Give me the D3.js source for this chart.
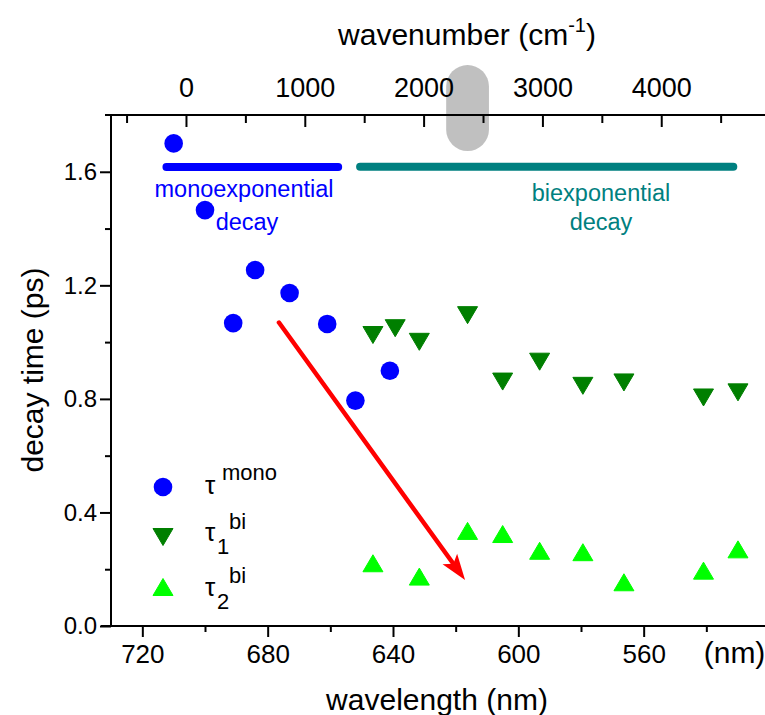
<!DOCTYPE html>
<html>
<head>
<meta charset="utf-8">
<script src="https://cdn.jsdelivr.net/npm/d3@7"></script>
<style>
  body { margin: 0; background: #fff; }
  text { font-family: "Liberation Sans", Arial, sans-serif; }
</style>
</head>
<body>
<div id="chart"></div>
<script>
const WIDTH = 765
const HEIGHT = 715

// data (wavelength in nm, decay time in ps)
const monoWl = [710, 700, 691, 684, 673, 661, 652, 641]
const monoTau = [1.70, 1.465, 1.067, 1.254, 1.173, 1.064, 0.794, 0.899]

const bi1Wl = [646.4, 639.3, 631.6, 616.2, 605.0, 593.2, 579.4, 566.3, 540.9, 529.9]
const bi1Tau = [1.025, 1.049, 1.001, 1.095, 0.861, 0.931, 0.846, 0.858, 0.805, 0.823]

const bi2Wl = [646.4, 631.6, 616.2, 605.0, 593.2, 579.4, 566.3, 540.9, 529.9]
const bi2Tau = [0.221, 0.174, 0.335, 0.324, 0.265, 0.260, 0.154, 0.195, 0.270]

const wlMajor = [720, 680, 640, 600, 560]
const wlMinor = [700, 660, 620, 580, 540]
const wnMajor = [0, 1000, 2000, 3000, 4000]
const wnMinor = [-500, 500, 1500, 2500, 3500, 4500]
const tauMajor = [0, 0.4, 0.8, 1.2, 1.6]
const tauMinor = [0.2, 0.6, 1.0, 1.4]

// regime bars: [wl start, wl end, tau]
const monoBar = [712.3, 657.5, 1.617]
const biBar = [650.5, 531.4, 1.618]
// arrow: [wl, tau] start -> end
const arrowFrom = [676.4, 1.069]
const arrowTo = [617.0, 0.162]
// grey marker on the wavenumber axis: [wn start, wn end, tau low, tau high]
const greyMark = [2190, 2550, 1.673, 1.976]

const X0 = 111, X1 = 769, Y0 = 626, Y1 = 115

const x = d3.scaleLinear().domain([730, 520]).range([X0, X1])
const xTop = d3.scaleLinear().domain([-631, 4907]).range([X0, X1])
const y = d3.scaleLinear().domain([0, 1.8]).range([Y0, Y1])

const svg = d3.select('#chart').append('svg')
  .attr('xmlns', 'http://www.w3.org/2000/svg')
  .attr('width', WIDTH)
  .attr('height', HEIGHT)

const BLUE = '#0000ff', DGREEN = '#007f00', LGREEN = '#00ff00', TEAL = '#008080', RED = '#ff0000'

// grey rounded marker behind the top axis
svg.append('rect')
  .attr('x', xTop(greyMark[0]))
  .attr('y', y(greyMark[3]))
  .attr('width', xTop(greyMark[1]) - xTop(greyMark[0]))
  .attr('height', y(greyMark[2]) - y(greyMark[3]))
  .attr('rx', (xTop(greyMark[1]) - xTop(greyMark[0])) / 2)
  .attr('fill', '#c0c0c0')

// axes
const styleAxis = (size) => (g) => {
  g.select('.domain').remove()
  g.selectAll('line').attr('stroke', '#000').attr('stroke-width', 2)
  g.selectAll('text').attr('fill', '#000').attr('font-size', size)
}

svg.append('g').attr('transform', `translate(0,${Y0})`)
  .call(d3.axisBottom(x).tickValues(wlMajor).tickSize(11).tickPadding(8).tickFormat(d3.format('d')))
  .call(styleAxis(26))
svg.append('g').attr('transform', `translate(0,${Y0})`)
  .call(d3.axisBottom(x).tickValues(wlMinor).tickSize(6).tickFormat(''))
  .call(styleAxis(26))

svg.append('g').attr('transform', `translate(${X0},0)`)
  .call(d3.axisLeft(y).tickValues(tauMajor).tickSize(11).tickPadding(3).tickFormat(d3.format('.1f')))
  .call(styleAxis(24))
svg.append('g').attr('transform', `translate(${X0},0)`)
  .call(d3.axisLeft(y).tickValues(tauMinor).tickSize(6).tickFormat(''))
  .call(styleAxis(24))

svg.append('g').attr('transform', `translate(0,${Y1})`)
  .call(d3.axisTop(xTop).tickValues(wnMajor).tickSize(-12).tickPadding(18).tickFormat(d3.format('d')))
  .call(styleAxis(27))
svg.append('g').attr('transform', `translate(0,${Y1})`)
  .call(d3.axisTop(xTop).tickValues(wnMinor).tickSize(-8).tickFormat(''))
  .call(styleAxis(27))

svg.append('line').attr('x1', X0 - 6).attr('x2', X1).attr('y1', Y1).attr('y2', Y1)
  .attr('stroke', '#000').attr('stroke-width', 2)
svg.append('line').attr('x1', X0 - 10).attr('x2', X1).attr('y1', Y0).attr('y2', Y0)
  .attr('stroke', '#000').attr('stroke-width', 2)
svg.append('line').attr('x1', X0).attr('x2', X0).attr('y1', Y1).attr('y2', Y0)
  .attr('stroke', '#000').attr('stroke-width', 2)

// axis titles
svg.append('text').attr('x', x(531)).attr('y', Y0 + 37)
  .attr('text-anchor', 'middle').attr('font-size', 30).text('(nm)')
svg.append('text').attr('x', 437).attr('y', 710)
  .attr('text-anchor', 'middle').attr('font-size', 30).text('wavelength (nm)')
svg.append('text').attr('transform', 'translate(43,370) rotate(-90)')
  .attr('text-anchor', 'middle').attr('font-size', 30).text('decay time (ps)')
const wnTitle = svg.append('text').attr('x', 467).attr('y', 45)
  .attr('text-anchor', 'middle').attr('font-size', 30)
wnTitle.append('tspan').text('wavenumber (cm')
wnTitle.append('tspan').attr('font-size', 20).attr('dy', -13).text('-1')
wnTitle.append('tspan').attr('dy', 13).text(')')

// regime bars and labels
svg.append('line').attr('x1', x(monoBar[0])).attr('x2', x(monoBar[1]))
  .attr('y1', y(monoBar[2])).attr('y2', y(monoBar[2]))
  .attr('stroke', BLUE).attr('stroke-width', 8).attr('stroke-linecap', 'round')
svg.append('line').attr('x1', x(biBar[0])).attr('x2', x(biBar[1]))
  .attr('y1', y(biBar[2])).attr('y2', y(biBar[2]))
  .attr('stroke', TEAL).attr('stroke-width', 8).attr('stroke-linecap', 'round')

svg.append('text').attr('x', 244).attr('y', 197).attr('text-anchor', 'middle')
  .attr('font-size', 23.5).attr('fill', BLUE).text('monoexponential')
svg.append('text').attr('x', 247).attr('y', 230).attr('text-anchor', 'middle')
  .attr('font-size', 23.5).attr('fill', BLUE).text('decay')
svg.append('text').attr('x', 601).attr('y', 201).attr('text-anchor', 'middle')
  .attr('font-size', 23.5).attr('fill', TEAL).text('biexponential')
svg.append('text').attr('x', 601).attr('y', 230).attr('text-anchor', 'middle')
  .attr('font-size', 23.5).attr('fill', TEAL).text('decay')

// arrow: shaft stops at the base of the head, head drawn as a polygon
const ax1 = x(arrowFrom[0]), ay1 = y(arrowFrom[1])
const ax2 = x(arrowTo[0]), ay2 = y(arrowTo[1])
const ang = Math.atan2(ay2 - ay1, ax2 - ax1)
const HEAD_LEN = 26, HEAD_W = 9, NOTCH = 6
const pt = (along, side) => [
  ax2 - along * Math.cos(ang) - side * Math.sin(ang),
  ay2 - along * Math.sin(ang) + side * Math.cos(ang)
]
svg.append('line')
  .attr('x1', ax1).attr('y1', ay1)
  .attr('x2', pt(HEAD_LEN - NOTCH, 0)[0]).attr('y2', pt(HEAD_LEN - NOTCH, 0)[1])
  .attr('stroke', RED).attr('stroke-width', 4.5).attr('stroke-linecap', 'round')
svg.append('path')
  .attr('d', d3.line()([pt(0, 0), pt(HEAD_LEN, HEAD_W), pt(HEAD_LEN - NOTCH, 0), pt(HEAD_LEN, -HEAD_W)]) + 'Z')
  .attr('fill', RED)

// markers
const tri = (w, h, down) => down
  ? `M${-w / 2},${-h / 2}L${w / 2},${-h / 2}L0,${h / 2}Z`
  : `M${-w / 2},${h / 2}L${w / 2},${h / 2}L0,${-h / 2}Z`

const monoData = monoWl.map((d, i) => [d, monoTau[i]])
const bi1Data = bi1Wl.map((d, i) => [d, bi1Tau[i]])
const bi2Data = bi2Wl.map((d, i) => [d, bi2Tau[i]])

svg.append('g').selectAll('circle').data(monoData).join('circle')
  .attr('cx', d => x(d[0])).attr('cy', d => y(d[1])).attr('r', 9.3).attr('fill', BLUE)

svg.append('g').selectAll('path').data(bi1Data).join('path')
  .attr('transform', d => `translate(${x(d[0])},${y(d[1])})`)
  .attr('d', tri(20, 17, true)).attr('fill', DGREEN)
  .attr('stroke', DGREEN).attr('stroke-width', 1).attr('stroke-linejoin', 'round')

svg.append('g').selectAll('path').data(bi2Data).join('path')
  .attr('transform', d => `translate(${x(d[0])},${y(d[1])})`)
  .attr('d', tri(20, 17, false)).attr('fill', LGREEN)
  .attr('stroke', LGREEN).attr('stroke-width', 1).attr('stroke-linejoin', 'round')

// legend
const legend = svg.append('g')
legend.append('circle').attr('cx', 163).attr('cy', 487).attr('r', 9.3).attr('fill', BLUE)
legend.append('path').attr('transform', 'translate(163,537)').attr('d', tri(20, 17, true))
  .attr('fill', DGREEN).attr('stroke', DGREEN).attr('stroke-linejoin', 'round')
legend.append('path').attr('transform', 'translate(163,587)').attr('d', tri(20, 17, false))
  .attr('fill', LGREEN).attr('stroke', LGREEN).attr('stroke-linejoin', 'round')

const lt0 = legend.append('text').attr('x', 205).attr('y', 494).attr('font-size', 26)
lt0.append('tspan').text('τ')
lt0.append('tspan').attr('x', 222).attr('y', 480).attr('font-size', 22).text('mono')

const lt1 = legend.append('text').attr('x', 205).attr('y', 541).attr('font-size', 26)
lt1.append('tspan').text('τ')
lt1.append('tspan').attr('x', 217).attr('y', 554).attr('font-size', 22).text('1')
lt1.append('tspan').attr('x', 229).attr('y', 529).attr('font-size', 22).text('bi')

const lt2 = legend.append('text').attr('x', 205).attr('y', 596).attr('font-size', 26)
lt2.append('tspan').text('τ')
lt2.append('tspan').attr('x', 217).attr('y', 609).attr('font-size', 22).text('2')
lt2.append('tspan').attr('x', 229).attr('y', 583).attr('font-size', 22).text('bi')
</script>
</body>
</html>
